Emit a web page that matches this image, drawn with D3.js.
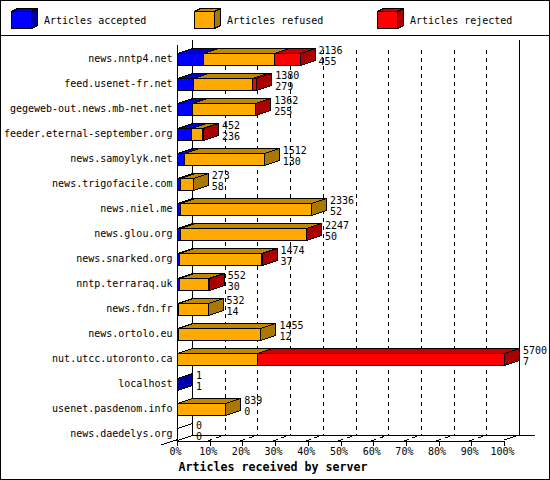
<!doctype html>
<html>
<head>
    <meta charset="utf-8">
    <script src="https://d3js.org/d3.v7.min.js"></script>
    <style>
        html, body { margin: 0; padding: 0; background: #fff; }
        svg { display: block; }
        text { font-family: "DejaVu Sans Mono", monospace; font-size: 10px; fill: #000; }
        .title { font-weight: bold; font-size: 11.65px; }
        polygon, rect, line, path { shape-rendering: crispEdges; }
    </style>
</head>
<body>
<svg id="chart" width="550" height="480"></svg>
<script>
    var servers = ["news.nntp4.net", "feed.usenet-fr.net", "gegeweb-out.news.mb-net.net",
        "feeder.eternal-september.org", "news.samoylyk.net", "news.trigofacile.com",
        "news.niel.me", "news.glou.org", "news.snarked.org", "nntp.terraraq.uk",
        "news.fdn.fr", "news.ortolo.eu", "nut.utcc.utoronto.ca", "localhost",
        "usenet.pasdenom.info", "news.daedelys.org"];
    var totals   = [2136, 1380, 1362, 452, 1512, 273, 2336, 2247, 1474, 552, 532, 1455, 5700, 1, 839, 0];
    var accepted = [455, 279, 255, 236, 130, 58, 52, 50, 37, 30, 14, 12, 7, 1, 0, 0];
    var refused  = [1235, 1028, 1097, 200, 1382, 215, 2284, 2192, 1427, 514, 518, 1443, 1393, 0, 839, 0];
    var rejected = [446, 73, 10, 16, 0, 0, 0, 5, 10, 8, 0, 0, 4300, 0, 0, 0];
    var percentTicks = [0, 10, 20, 30, 40, 50, 60, 70, 80, 90, 100];
    var legendLabels = ["Articles accepted", "Articles refused", "Articles rejected"];
    var keys = ["accepted", "refused", "rejected"];
    var title = "Articles received by server";

    // front colour, top colour, side colour
    var colors = {
        accepted: ["#0000ff", "#0000c8", "#0000a8"],
        refused: ["#ffaa00", "#c08800", "#aa7700"],
        rejected: ["#ff0000", "#c80000", "#aa0000"]
    };
    var dx = 15, dy = 5;      // depth of the 3d effect
    var axisY = 440;

    var svg = d3.select("#chart");
    var x = d3.scaleLinear().domain([0, 5700]).range([177, 504]);
    var pct = d3.scaleLinear().domain([0, 100]).range([177, 504]);
    var y = d3.scaleBand().domain(servers).range([46.5, 446.5]).paddingInner(0.52).paddingOuter(0.26);

    function px(v) { return Math.round(v) + 0.5; }
    function poly(points) { return points.map(p => p.join(",")).join(" "); }

    // frame and legend divider
    svg.append("rect").attr("x", 0.5).attr("y", 0.5).attr("width", 549).attr("height", 479)
        .attr("fill", "#fff").attr("stroke", "#000");
    svg.append("line").attr("x1", 0).attr("x2", 550).attr("y1", 35.5).attr("y2", 35.5).attr("stroke", "#000");

    // legend
    var legend = svg.selectAll("g.legend").data(keys).enter().append("g")
        .attr("class", "legend")
        .attr("transform", (d, i) => "translate(" + (11 + i * 183) + ",11)");
    legend.append("polygon")
        .attr("points", poly([[0.5, 0.5], [6.5, -2.5], [26.5, -2.5], [20.5, 0.5]]))
        .attr("fill", d => colors[d][1]).attr("stroke", "#000");
    legend.append("polygon")
        .attr("points", poly([[20.5, 0.5], [26.5, -2.5], [26.5, 14.5], [20.5, 17.5]]))
        .attr("fill", d => colors[d][2]).attr("stroke", "#000");
    legend.append("rect").attr("x", 0.5).attr("y", 0.5).attr("width", 20).attr("height", 17)
        .attr("fill", d => colors[d][0]).attr("stroke", "#000");
    legend.append("text").attr("x", 33).attr("y", 12.5)
        .text((d, i) => legendLabels[i]);

    // back walls
    var grid = svg.append("g");
    grid.selectAll("line.grid").data(percentTicks.slice(1, -1)).enter().append("line")
        .attr("class", "grid")
        .attr("x1", d => px(pct(d) + dx)).attr("x2", d => px(pct(d) + dx))
        .attr("y1", 50).attr("y2", axisY - dy)
        .attr("stroke", "#000").attr("stroke-dasharray", "4 4");
    // dashed floor lines running from the front axis to the back wall
    grid.selectAll("line.floor").data(percentTicks.slice(1, -1)).enter().append("line")
        .attr("class", "floor")
        .attr("x1", d => pct(d) - 2).attr("x2", d => pct(d) + dx)
        .attr("y1", axisY + 1).attr("y2", axisY - dy)
        .attr("stroke", "#000").attr("stroke-dasharray", "5 4");
    grid.append("line").attr("x1", px(pct(0) + dx)).attr("x2", px(pct(0) + dx)).attr("y1", 40).attr("y2", axisY - dy).attr("stroke", "#000");
    grid.append("line").attr("x1", px(pct(100) + dx)).attr("x2", px(pct(100) + dx)).attr("y1", 40).attr("y2", axisY - dy).attr("stroke", "#000");
    grid.append("line").attr("x1", px(pct(0) + dx)).attr("x2", 535).attr("y1", axisY - dy + 0.5).attr("y2", axisY - dy + 0.5).attr("stroke", "#000");
    grid.append("line").attr("x1", 161).attr("x2", pct(0) + dx).attr("y1", axisY + 5).attr("y2", axisY - dy).attr("stroke", "#000");
    grid.append("line").attr("x1", pct(100)).attr("x2", pct(100) + dx).attr("y1", axisY).attr("y2", axisY - dy).attr("stroke", "#000");

    // stacked bars
    var table = servers.map((s, i) => ({
        server: s, total: totals[i], accepted: accepted[i], refused: refused[i], rejected: rejected[i]
    }));
    var stack = d3.stack().keys(keys)(table);

    stack.forEach(function (layer) {
        var key = layer.key;
        var g = svg.append("g");
        var shown = layer.filter(d => d[1] > d[0]);
        // top faces
        g.selectAll("polygon.top").data(shown).enter().append("polygon")
            .attr("class", "top")
            .attr("points", function (d) {
                var top = y(d.data.server) + 0.5;
                return poly([[px(x(d[0])), top], [px(x(d[0])) + dx, top - dy], [px(x(d[1])) + dx, top - dy], [px(x(d[1])), top]]);
            })
            .attr("fill", colors[key][1]).attr("stroke", "#000");
        // side face only on the last segment of a row
        g.selectAll("polygon.side").data(shown.filter(d => d[1] === d.data.total)).enter().append("polygon")
            .attr("class", "side")
            .attr("points", function (d) {
                var top = y(d.data.server) + 0.5, h = y.bandwidth();
                var e = px(x(d[1]));
                return poly([[e, top], [e + dx, top - dy], [e + dx, top + h - dy], [e, top + h]]);
            })
            .attr("fill", colors[key][2]).attr("stroke", "#000");
        // front faces
        g.selectAll("rect").data(shown).enter().append("rect")
            .attr("x", d => px(x(d[0])))
            .attr("y", d => y(d.data.server) + 0.5)
            .attr("width", d => px(x(d[1])) - px(x(d[0])))
            .attr("height", y.bandwidth())
            .attr("fill", colors[key][0]).attr("stroke", "#000");
    });

    // empty row: just the outline on the floor of the band
    svg.append("g").selectAll("polygon").data(table.filter(d => d.total === 0)).enter().append("polygon")
        .attr("points", function (d) {
            var top = y(d.server) + 0.5, h = y.bandwidth();
            var e = px(x(0));
            return poly([[e, top], [e + dx, top - dy], [e + dx, top + h - dy], [e, top + h]]);
        })
        .attr("fill", "#fff").attr("stroke", "#000");

    // value labels
    var labels = svg.append("g").selectAll("g").data(table).enter().append("g")
        .attr("transform", d => "translate(" + (x(d.total) + 19) + "," + y(d.server) + ")");
    labels.append("text").attr("y", 0.5).text(d => d.total);
    labels.append("text").attr("y", 11.5).text(d => d.accepted);

    // axes
    var yAxis = d3.axisLeft(y).tickSize(0).tickPadding(5);
    svg.append("g").attr("transform", "translate(177.5,0)").call(yAxis)
        .call(g => g.select(".domain").remove())
        .call(g => g.selectAll("text").attr("font-family", null).attr("font-size", null));
    svg.append("line").attr("x1", 177.5).attr("x2", 177.5).attr("y1", 45).attr("y2", axisY + 5).attr("stroke", "#000");

    var xAxis = d3.axisBottom(pct).tickValues(percentTicks).tickFormat(d => d + "%").tickSize(5).tickSizeOuter(0).tickPadding(2);
    svg.append("g").attr("transform", "translate(0," + (axisY + 0.5) + ")").call(xAxis)
        .call(g => g.selectAll("text").attr("font-family", null).attr("font-size", null).attr("x", -2))
        .call(g => g.selectAll("line,path").attr("stroke", "#000"));

    svg.append("text").attr("class", "title").attr("x", 273).attr("y", 470.5)
        .attr("text-anchor", "middle").text(title);
</script>
</body>
</html>
